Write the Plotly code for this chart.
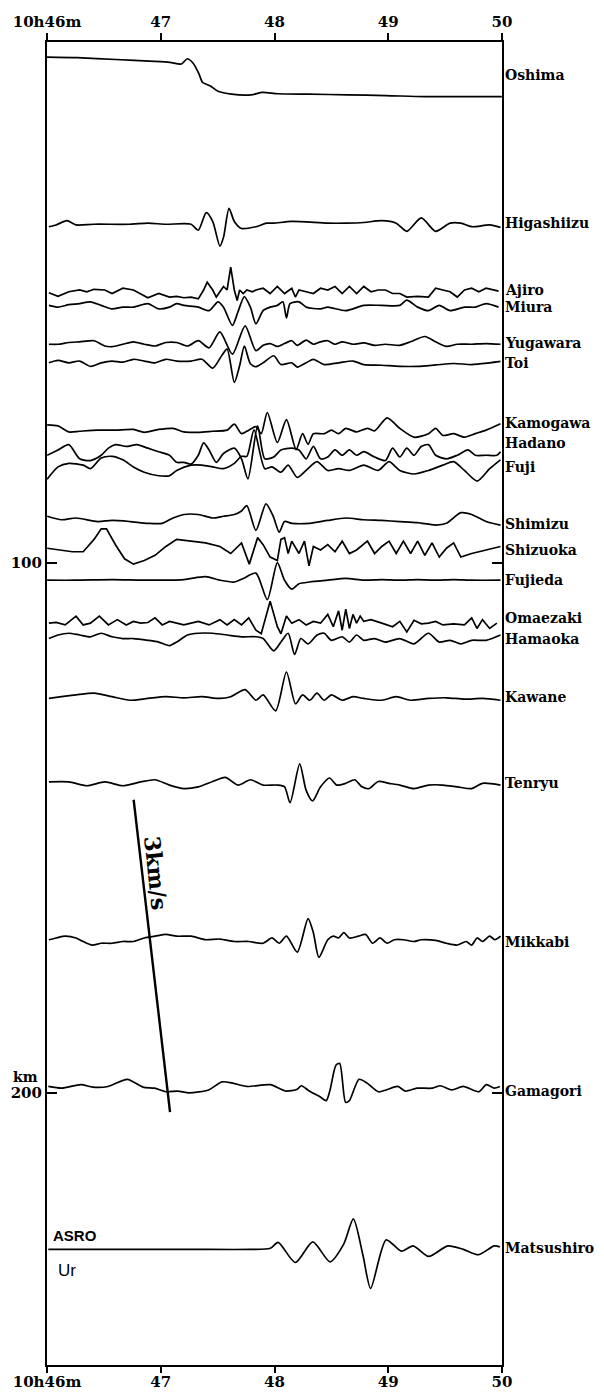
import plotly.graph_objects as go

# ---------------- data (read from the reference record section) ----------------
# time: seconds after 10h46m00s ; amplitude: trace units (positive = up)
STATIONS = ["Oshima", "Higashiizu", "Ajiro", "Miura", "Yugawara", "Toi", "Kamogawa",
            "Hadano", "Fuji", "Shimizu", "Shizuoka", "Fujieda", "Omaezaki", "Hamaoka",
            "Kawane", "Tenryu", "Mikkabi", "Gamagori", "Matsushiro"]
DISTANCE_KM = [7.5, 36.3, 48.9, 51.8, 58.8, 62.3, 75.0, 79.4, 81.6, 91.9, 97.6, 103.3,
               111.4, 114.3, 125.6, 141.6, 171.1, 199.1, 229.5]
LABEL_KM = [8.0, 36.0, 48.6, 51.7, 58.5, 62.4, 73.6, 77.5, 81.9, 92.7, 97.6, 103.3,
            110.5, 114.4, 125.3, 141.6, 171.5, 199.6, 229.3]
AMP_SCALE = [0.20, 0.185, 0.185, 0.185, 0.185, 0.185, 0.185, 0.185, 0.185, 0.185, 0.185,
             0.185, 0.185, 0.185, 0.185, 0.185, 0.185, 0.173, 0.173]
SHARP = ["Ajiro", "Shizuoka", "Omaezaki"]

OSHIMA_T = [0, 15.9, 36.3, 56.6, 64.8, 70.9, 74, 77, 80.1, 82.1, 86.2, 90.2, 97.4, 107.6,
            113.7, 121.8, 138.1, 158.5, 178.8, 199.2, 219.6, 239.9]
OSHIMA_A = [14.3, 13.7, 12, 10.3, 9.3, 7.7, 12.7, 8.7, -1.3, -9.7, -13, -18, -20.7, -21.3,
            -19, -20.3, -20.7, -21.3, -22, -23, -23, -23]

HIGASHIIZU_T = [1.0, 4.8, 10.5, 15.3, 24.8, 43.7, 53.2, 62.7, 76, 79.8, 84, 87.4, 91.2, 93.1,
                96, 98.8, 102.6, 110.2, 115.8, 119.6, 129.1, 148.1, 157.6, 167.1, 176.6, 184.2,
                189.8, 197.4, 205, 212.6, 218.3, 224, 233.5, 239.2]
HIGASHIIZU_A = [-1.8, 0, 4.3, 0, 0.7, 0.7, 1.8, 0.7, 0.7, -5.4, 12.6, 3.6, -21.6, -12.6, 16.9,
                3.6, -3.6, -1.8, 1.8, 1.8, 3.6, 1.8, 1.8, 2.5, 4.3, 1.8, -6.5, 7.2, -6.5, 1.8,
                1.8, -1.8, 0, -2.5]

AJIRO_T = [1.0, 5.8, 11.5, 17.2, 21, 24.8, 30.5, 34.3, 40, 45.6, 53.2, 58.9, 64.6, 68.4, 72.2,
           76, 79.8, 82.6, 84.5, 87.4, 89.3, 91.2, 93.1, 95, 96.9, 98.8, 100.3, 101.6, 103.5,
           105.4, 108.3, 110.2, 114, 117.7, 121.5, 125.3, 129.1, 131, 132.9, 136.7, 140.5,
           144.3, 148.1, 151.9, 155.7, 159.5, 163.3, 167.1, 170.9, 174.7, 178.5, 182.3, 186.1,
           189.8, 195.5, 201.2, 205, 208.8, 212.6, 216.4, 220.2, 224, 227.8, 231.6, 235.4, 238.2]
AJIRO_A = [-1.1, -4.7, 0, 1.8, 0, 2.5, 1.8, -1.8, 3.6, 1.8, -6.1, -1.8, -5.4, -4.7, -6.1, -5.4,
           -7.2, 1.8, 9.7, 1.8, -5.4, 0, 5.4, 1.8, 25.2, 1.8, -9, 1.8, -1.8, 1.8, 0, 1.8, 3.6,
           -1.8, 5.4, -1.8, 3.6, -5.4, 1.8, 0, -1.8, 3.6, 1.8, 5.4, -1.8, 5.4, -1.8, 5.4, 0, 1.8,
           1.8, -1.8, -1.8, -5.4, -4.7, -5.4, 3.6, 1.8, 0, -5.4, 1.8, 3.6, 0, 3.6, 1.8, 0.7]

MIURA_T = [1.0, 5.8, 11.5, 17.2, 22.9, 28.6, 34.3, 40, 45.6, 53.2, 58.9, 64.6, 68.4, 72.2, 79.8,
           85.5, 90.2, 93.1, 97.8, 100.7, 104.1, 107.3, 110.2, 114, 117.7, 121.5, 124.4, 126.3,
           128.2, 132.9, 136.7, 144.3, 148.1, 157.6, 167.1, 176.6, 186.1, 189.8, 195.5, 201.2,
           206.9, 212.6, 220.2, 225.9, 231.6, 238.2]
MIURA_A = [1.8, 0, 2.5, 3.6, 5.4, 1.8, -1.8, 0, 0, 3.6, -1.8, 0, 3.6, 1.8, 0, -3.6, 5.4, 0,
           -18.6, -5, 10.8, 0, -17, -3.6, 0, 1.8, 5.4, -11, 3.6, 5.4, 0, -1.8, 0, -3.6, 1.8,
           1.8, 1.8, 7.2, 0, -3.6, 1.8, -3.6, 0, 0, 3.6, 0]

YUGAWARA_T = [1.0, 5.8, 11.5, 17.2, 24.8, 30.5, 34.3, 40, 45.6, 51.3, 57, 62.7, 68.4, 74.1,
              79.8, 85.5, 91.2, 97.8, 104.5, 110.2, 114, 117.7, 121.5, 125.3, 129.1, 132,
              136.7, 140.5, 144.3, 148.1, 151.9, 155.7, 161.4, 167.1, 172.8, 178.5, 186.1,
              191.8, 199.3, 205, 210.7, 216.4, 224, 231.6, 239.2]
YUGAWARA_A = [0, 0, 1.8, 2.5, 3.6, -1.8, -2.5, 0, 2.5, 0, -1.8, 1.8, 1.8, -1.8, 3.6, -3.6,
              12.6, -10.1, 18.7, -6.5, -1.1, 0.7, -2.2, 0.7, 3.6, -1.1, 4.3, 0, 2.5, 3.6, 0,
              2.5, 0, 1.4, -1.1, 0, -1.1, 2.5, 7.9, 2.5, -2.2, 0, 0, 0.7, 0]

TOI_T = [1.0, 5.8, 11.5, 17.2, 22.9, 28.6, 34.3, 40, 45.6, 51.3, 57, 62.7, 68.4, 76, 81.7,
         87.4, 92.1, 95, 98.8, 101.6, 104.1, 107.3, 110.2, 114, 119.6, 123.4, 129.1, 132,
         136.7, 140.5, 146.2, 153.8, 161.4, 167.1, 176.6, 186.1, 195.5, 205, 214.5, 224,
         233.5, 239.2]
TOI_A = [0, 2.5, 0, 1.8, -3.6, 0, 1.8, 0.7, 3.6, 1.8, 0, 3.6, 1.8, 1.8, 3.6, -5.4, 7.2, 14,
         -20, -3, 17, -1, -4, 0, 7.2, -1.8, 0, -4.3, 0, 3.6, -1.8, 0, 1.8, -1.8, -2.5, -3.6,
         -3.6, -2.2, -0.7, -1.8, 0, 1.4]

KAMOGAWA_T = [0.1, 5.8, 11.5, 17.2, 26.7, 36.1, 45.6, 51.3, 58.9, 66.5, 72.2, 79.8, 87.4, 95,
              98.8, 102.6, 106.4, 110.2, 113, 116.2, 121.5, 126.3, 131.4, 134.8, 137.7, 140.5,
              146.2, 150, 153.8, 157.6, 163.3, 169, 172.8, 179.4, 186.1, 193.6, 201.2, 205,
              208.8, 214.5, 220.2, 225.9, 231.6, 239.2]
KAMOGAWA_A = [5.4, 4.3, -1.8, -1.1, 0, 0, 0.7, -2.2, 0.7, 1.8, -1.8, -2.2, -1.1, 0, 6.1, -3.6,
              0, 3.6, -3.6, 18, -12.6, 10.8, -19.8, -3.6, -14.4, -3.6, -3.6, 0, -3.6, 1.8,
              -1.8, 1.8, -0.7, 12.6, 1.8, -7.2, -3.6, 1.8, -5.4, -3.6, -7.2, -3.6, 0, 6.5]

HADANO_T = [0.1, 5.8, 11.5, 17.2, 22.9, 28.6, 32.4, 36.1, 41.8, 47.5, 53.2, 58.9, 64.6, 68.4,
            72.2, 76, 79.8, 82.6, 85.5, 89.3, 93.1, 98.8, 102.6, 106, 111.1, 114.9, 119.6,
            123.4, 129.1, 132.9, 136.7, 140.5, 144.3, 148.1, 151.9, 155.7, 159.5, 163.3, 167.1,
            172.8, 178.5, 182.3, 186.1, 189.8, 193.6, 197.4, 201.2, 205, 210.7, 216.4, 222.1,
            225.9, 231.6, 237.3, 239.2]
HADANO_A = [-1.8, 3.6, 9, -5.4, -7.2, -1.8, 5.4, 9, 7.2, 9, 5.4, 1.8, -1.8, -9, -9, -10.8,
            -1.8, 10.8, 3.6, -9, 0, 5.4, -5.4, -25.9, 28.1, -5.4, -3.6, 3.6, 5.4, 3.6, -5.4,
            7.2, -5.4, -3.6, 3.6, -1.8, 3.6, -1.8, 1.8, -3.6, -7.2, 5.4, -3.6, 5.4, -1.8, 7.2,
            9, -1.8, -5.4, -1.8, 3.6, -1.8, -1.8, -1.8, 1.8]

FUJI_T = [0.1, 5.8, 11.5, 19.1, 22.9, 28.6, 34.3, 40, 45.6, 51.3, 58.9, 64.6, 68.4, 76, 81.7,
          87.4, 93.1, 98.8, 102.6, 105.4, 109.2, 114.9, 118.7, 123.4, 127.2, 132, 136.7,
          142.4, 148.1, 153.8, 159.5, 167.1, 174.7, 180.4, 186.1, 193.6, 201.2, 208.8, 214.5,
          220.2, 226.9, 233.5, 239.2]
FUJI_A = [-14.4, -1.8, 1.8, 0, -3.6, 7.2, 9, 5.4, -1.8, -7.2, -10.8, -10.8, -5.4, 0, 0, -1.8,
          -3.6, 1.8, 9, 9, 36, -3.6, -1.8, -7.2, 0, -12.6, -5.4, 3.6, -5.4, -3.6, -5.4, 0,
          -5.4, 3.6, -5.4, -9, -5.4, 0, 3.6, -5.4, -16.2, -3.6, 5.4]

SHIMIZU_T = [0.1, 7.7, 15.3, 26.7, 34.3, 43.7, 53.2, 60.8, 66.5, 72.2, 79.8, 87.4, 93.1, 98.8,
             102.6, 105.4, 110.2, 115.5, 119.3, 122.5, 125.3, 129.1, 138.6, 148.1, 157.6,
             167.1, 176.6, 186.1, 195.5, 205, 210.7, 218.3, 224, 231.6, 239.2]
SHIMIZU_A = [3.6, 0, 1.8, -1.8, -0.7, -1.8, -3.6, -3.6, 1.8, 5.4, 5.4, 1.8, 3.6, 5.4, 9, 14.4,
             -10.8, 16.2, 3.6, -12.6, -1.8, -3.6, -3.6, -0.7, 1.8, 0, -0.7, -1.8, -2.9, -5.4,
             -3.6, 7.2, 5.4, -1.8, -5.4]

SHIZUOKA_T = [0.1, 7.7, 13.4, 19.1, 24.8, 28.6, 31.4, 36.1, 40.9, 45.6, 51.3, 57, 62.7, 68.4,
              76, 83.6, 91.2, 96.9, 102.6, 106.7, 111.1, 114, 117.7, 121.5, 123.4, 125.3,
              127.2, 129.1, 132.9, 135.8, 138.2, 140.5, 144.3, 148.1, 151.9, 155.7, 159.5,
              163.3, 169, 172.8, 176.6, 180.4, 184.2, 188, 191.8, 195.5, 199.3, 203.1, 206.9,
              210.7, 214.5, 218.3, 224, 231.6, 239.2]
SHIZUOKA_A = [1.8, 0, -1.8, -1.8, 10.8, 21.6, 21.6, 5.4, -9, -14.4, -10.8, -5.4, 3.6, 10.8, 9,
              7.2, 3.6, -3.6, 7.2, -14.4, 12.6, 5.4, -7.2, -10.8, 10.8, 12.6, -3.6, 9, -3.6, 9,
              -16.2, 3.6, 0, 5.4, -1.8, 9, -3.6, 0, 9, -3.6, 3.6, 9, -3.6, 9, -3.6, 9, -5.4,
              7.2, -7.2, 1.8, 7.2, -7.2, -3.6, 0, 3.6]

FUJIEDA_T = [0.1, 15.3, 34.3, 53.2, 72.2, 83.6, 91.2, 98.8, 103.5, 110.2, 116.2, 121.5, 125.3,
             129.1, 132.9, 138.6, 148.1, 157.6, 167.1, 176.6, 186.1, 195.5, 205, 214.5, 224,
             239.2]
FUJIEDA_A = [0, 0, 0.7, 0, 0.7, 3.6, 0, -1.8, 1.8, 7.2, -19.8, 18, 0, -9, -3.6, -1.8, 0, 1.8,
             0, 0.7, 0, 0.7, 0, 0.7, 0, 0]

OMAEZAKI_T = [1.0, 4.8, 9.6, 15.3, 19.1, 22.9, 27.6, 32.4, 37.1, 41.8, 45.6, 49.4, 53.2, 57,
              60.8, 64.6, 72.2, 79.8, 85.5, 91.2, 95, 98.8, 102.6, 106.4, 110.2, 113, 117.7,
              121.5, 123.4, 126.3, 129.1, 132.9, 136.7, 140.5, 144.3, 148.1, 151, 153.8, 155.7,
              157.6, 159.5, 161.4, 163.3, 165.2, 167.1, 170.9, 176.6, 182.3, 186.1, 189.8,
              193.6, 197.4, 201.2, 205, 208.8, 214.5, 220.2, 224, 226.8, 229.7, 233.5, 237.3]
OMAEZAKI_A = [0, 0.7, -1.8, 7.2, -1.8, 0, 7.2, -1.8, 3.6, -1.8, 1.8, 0, 0.7, 5.4, -1.8, 1.8,
              -1.8, 1.8, -1.8, 3.6, -1.8, 3.6, -1.8, 5.4, -7.2, -10.8, 22.3, -3.6, -10.8, 7.2,
              0, 3.6, -1.8, 1.8, 0, 9, -3.6, 12.6, -7.2, 14.4, -5.4, 9, 0, 7.2, 1.8, 3.6, 0,
              -3.6, 1.8, -9, 2.9, -0.7, 0, 1.8, -1.8, -0.7, -1.8, 5.4, -5.4, 3.6, -5.4, 0]

HAMAOKA_T = [1.0, 5.8, 11.5, 17.2, 22.9, 28.6, 34.3, 40, 45.6, 53.2, 58.9, 64.6, 68.4, 74.1,
             79.8, 87.4, 95, 102.6, 110.2, 114, 119.6, 123.4, 127.2, 130.6, 133.9, 137.7,
             142.5, 146.2, 150, 155.7, 159.5, 163.3, 167.1, 172.8, 178.5, 186.1, 193.6, 201.2,
             206.9, 212.6, 218.3, 224, 231.6, 239.2]
HAMAOKA_A = [0, 3.6, 5.4, 3.6, 1.8, 5.4, 1.8, 0, 0, -1.8, -3.6, -7.2, -3.6, 3.6, 5.4, 5.4,
             3.6, 1.8, 1.8, 0, -12.6, -3.6, 5.4, -16.2, 0, -5.4, 3.6, 5.4, -1.8, 1.8, -3.6,
             3.6, -1.8, 0, -3.6, 0, -5.4, 5.4, -3.6, -1.8, -5.4, -1.8, -1.8, 3.6]

KAWANE_T = [1.0, 7.7, 15.3, 24.8, 34.3, 43.7, 53.2, 62.7, 72.2, 81.7, 91.2, 96.9, 104.5, 110.2,
            114, 120.6, 126.3, 131.1, 134.8, 138.6, 142.4, 146.2, 150, 155.7, 161.4, 167.1,
            176.6, 184.2, 191.7, 201.2, 210.7, 220.2, 229.7, 239.2]
KAWANE_A = [0, 1.8, 3.6, 5.4, 1.8, -1.8, 0, 1.8, 0.7, 1.8, 0, 1.8, 9, -1.8, 3.6, -12.6, 27,
            -5.4, 3.6, -1.8, 5.4, -1.8, 3.6, -1.8, 1.8, 0, -1.8, 1.8, -1.8, 0, 0.7, -0.7, 0,
            -1.8]

TENRYU_T = [1.0, 11.5, 21, 30.5, 40, 49.4, 57, 64.6, 72.2, 79.8, 87.4, 94, 100.7, 107.3, 113.9,
            121.5, 125.3, 128.2, 133.3, 136.7, 140.1, 144.3, 149, 152.8, 157.6, 162.3, 166.1,
            169.9, 174.7, 180.4, 186.1, 193.6, 201.2, 208.8, 216.4, 224, 229.7, 239.2]
TENRYU_A = [1.4, 1.4, -2.5, 1.4, -2.5, 1.4, 3.6, -1.8, -5.4, -3.6, 1.8, 6.1, -1.8, 3.6, -1.8,
            -1.8, -3.6, -19.8, 19.8, -7.2, -18, -3.6, 5.4, -1.8, 0, 3.6, -3.6, -5.4, 1.8, 0,
            -1.8, -5.4, -1.8, -1.8, -3.6, -5.4, 0, -1.8]

MIKKABI_T = [1.0, 4.8, 9.6, 15.3, 19.1, 23.8, 28.6, 34.3, 40, 45.6, 51.3, 57, 62.7, 68.4, 76,
             83.6, 91.2, 98.8, 106.4, 114, 118.7, 122.5, 126.3, 132, 137.7, 140.5, 143.4,
             148.1, 151, 153.8, 156.6, 159.5, 164.2, 168, 171.8, 175.6, 179.4, 183.2, 188,
             193.6, 197.4, 205, 210.7, 216.4, 221.1, 224, 226.9, 229.7, 233.5, 236.3, 239.2]
MIKKABI_A = [0, 1.8, 3.6, 1.8, -1.8, -5.4, -3.6, -3.6, -1.8, -1.8, 1.8, 3.6, 5.4, 3.6, 3.6, 0,
             0.7, -1.8, -1.8, -3.6, 1.8, -3.6, 3.6, -12.6, 21.6, 7.2, -18, 0, 3.6, 1.8, 7.2,
             1.8, 3.6, 5.4, -3.6, 1.8, -3.6, 0, 0, -1.8, 0, -0.7, -3.6, -5.4, -1.8, -5.4, 1.8,
             -1.8, 3.6, 0, 3.6]

GAMAGORI_T = [0.7, 7.8, 17.9, 24.1, 32.2, 42.4, 50.6, 56.7, 62.8, 68.9, 75, 85.2, 92.3, 97.4,
              105.5, 117.8, 125.9, 132, 134.1, 138.1, 144.2, 147.3, 149.3, 152.4, 154.4, 157.5,
              159.5, 164.6, 168.7, 174.8, 178.9, 185, 189, 195.2, 203.3, 207.4, 213.5, 219.6,
              227.7, 231.8, 235.9, 238.9]
GAMAGORI_A = [1.9, 0, 3.9, 1.2, 1.9, 9.7, 1.2, 0, -3.9, -3.1, -5, -1.9, 6.9, 5.8, 1.9, 3.9,
              -3.1, -1.2, 2.7, -2.7, -9.7, -13.5, -1.9, 25.1, 27, -15.4, -13.5, 9.7, 5.8, -3.9,
              -1.9, 1.9, -3.1, 0, 0, 2.7, -1.9, 1.9, -3.9, 3.9, 0, 1.9]

MATSUSHIRO_T = [0.7, 36.3, 77.1, 107.6, 117.8, 121.9, 131, 140.2, 149.3, 156.5, 161.6, 166.6,
                170.7, 178.9, 187, 193.1, 201.3, 211.4, 219.6, 227.7, 235.9, 238.9]
MATSUSHIRO_A = [0, 0, 0, 0, 1.2, 7.7, -14.3, 8.1, -13.5, 5.8, 33.2, -5.8, -42.5, 10.4, -1.9,
                3.9, -7.7, 3.9, 0, -5.8, 3.9, 2.7]

TRACES = {
    "Oshima": (OSHIMA_T, OSHIMA_A), "Higashiizu": (HIGASHIIZU_T, HIGASHIIZU_A),
    "Ajiro": (AJIRO_T, AJIRO_A), "Miura": (MIURA_T, MIURA_A),
    "Yugawara": (YUGAWARA_T, YUGAWARA_A), "Toi": (TOI_T, TOI_A),
    "Kamogawa": (KAMOGAWA_T, KAMOGAWA_A), "Hadano": (HADANO_T, HADANO_A),
    "Fuji": (FUJI_T, FUJI_A), "Shimizu": (SHIMIZU_T, SHIMIZU_A),
    "Shizuoka": (SHIZUOKA_T, SHIZUOKA_A), "Fujieda": (FUJIEDA_T, FUJIEDA_A),
    "Omaezaki": (OMAEZAKI_T, OMAEZAKI_A), "Hamaoka": (HAMAOKA_T, HAMAOKA_A),
    "Kawane": (KAWANE_T, KAWANE_A), "Tenryu": (TENRYU_T, TENRYU_A),
    "Mikkabi": (MIKKABI_T, MIKKABI_A), "Gamagori": (GAMAGORI_T, GAMAGORI_A),
    "Matsushiro": (MATSUSHIRO_T, MATSUSHIRO_A),
}

# 3 km/s reference line (time s, distance km at its two ends)
VLINE_T = [45.7, 64.9]
VLINE_KM = [144.7, 203.6]

TIME_TICKS_MIN = [46, 47, 48, 49, 50]
TIME_TICK_TEXT = ["10h46m", "47", "48", "49", "50"]
DIST_TICKS = [100, 200]
DIST_TICK_TEXT = ["100", "200"]
T_RANGE_MIN = [46, 50]
D_RANGE_KM = [251.3, 1.8]

# ---------------- figure ----------------
SERIF = "DejaVu Serif"
fig = go.Figure()

for name, dist, scale in zip(STATIONS, DISTANCE_KM, AMP_SCALE):
    t, a = TRACES[name]
    assert len(t) == len(a), name
    fig.add_trace(go.Scatter(
        x=[46 + s / 60.0 for s in t],
        y=[dist - scale * v for v in a],
        mode="lines",
        line=dict(color="black", width=1.7,
                  shape="linear" if name in SHARP else "spline",
                  smoothing=0.7 if name not in SHARP else None),
        hoverinfo="skip", showlegend=False))

fig.add_trace(go.Scatter(
    x=[46 + s / 60.0 for s in VLINE_T], y=VLINE_KM, mode="lines",
    line=dict(color="black", width=2.4), hoverinfo="skip", showlegend=False))

# dummy trace on the mirrored axes so they are drawn
fig.add_trace(go.Scatter(x=[46], y=[100], xaxis="x2", yaxis="y2", mode="markers",
                         marker=dict(opacity=0), hoverinfo="skip", showlegend=False))

for name, lk in zip(STATIONS, LABEL_KM):
    fig.add_annotation(text=name, xref="paper", x=1.0, xanchor="left", xshift=1,
                       yref="y", y=lk, yanchor="middle", showarrow=False,
                       font=dict(family=SERIF, size=14, color="black", weight="bold"))

fig.add_annotation(text="3km/s", xref="x", x=46 + 57.5 / 60, yref="y", y=158.5,
                   textangle=84, showarrow=False,
                   font=dict(family=SERIF, size=22, color="black", weight="bold"))
fig.add_annotation(text="ASRO", xref="paper", x=0.0, xanchor="left", xshift=4,
                   yref="y", y=226.8, showarrow=False,
                   font=dict(family="Liberation Sans", size=15, color="black", weight="bold"))
fig.add_annotation(text="Ur", xref="paper", x=0.0, xanchor="left", xshift=9,
                   yref="y", y=233.4, showarrow=False,
                   font=dict(family="Liberation Sans", size=17, color="black"))
fig.add_annotation(text="km", xref="paper", x=0.0, xanchor="right", xshift=-7,
                   yref="y", y=196.9, showarrow=False,
                   font=dict(family=SERIF, size=14, color="black", weight="bold"))

tickfont = dict(family=SERIF, size=15, color="black", weight="bold")
xcommon = dict(range=T_RANGE_MIN, tickvals=TIME_TICKS_MIN, ticktext=TIME_TICK_TEXT,
               ticks="outside", tickwidth=1.5, tickcolor="black",
               showline=True, linecolor="black", linewidth=2, showgrid=False,
               zeroline=False, tickfont=tickfont, fixedrange=True, automargin=False)
ycommon = dict(range=D_RANGE_KM, tickvals=DIST_TICKS, ticktext=DIST_TICK_TEXT,
               ticks="inside", ticklen=10, tickwidth=1.5, tickcolor="black",
               showline=True, linecolor="black", linewidth=2, showgrid=False,
               zeroline=False, tickfont=tickfont, fixedrange=True, automargin=False)

# the page body adds an 8 px offset, so the figure is 8 px smaller than the window
fig.update_layout(
    width=596, height=1384,
    margin=dict(l=39, r=102, t=34, b=27, autoexpand=False),
    plot_bgcolor="white", paper_bgcolor="white",
    showlegend=False,
    xaxis=dict(side="bottom", ticklen=6, ticklabelstandoff=-4, **xcommon),
    xaxis2=dict(side="top", overlaying="x", ticklen=7, **xcommon),
    yaxis=dict(side="left", **ycommon),
    yaxis2=dict(side="right", overlaying="y", showticklabels=False, **ycommon),
)

fig.write_html("out.html")
